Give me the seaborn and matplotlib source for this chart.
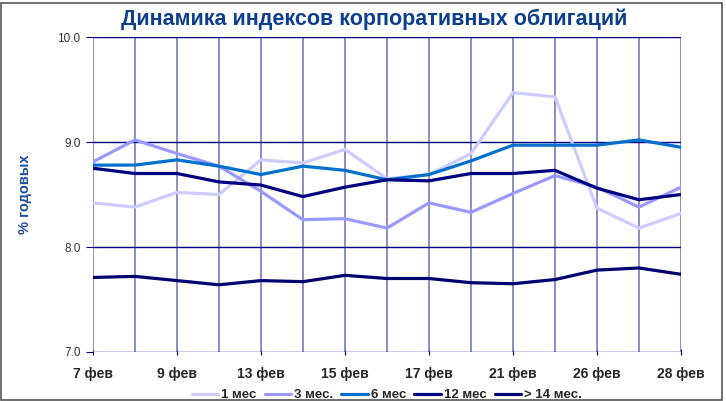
import pandas as pd
import matplotlib.pyplot as plt
import seaborn as sns
from matplotlib.patches import Rectangle

sns.set_style('white')
plt.rcParams['font.family'] = ['Liberation Sans', 'DejaVu Sans']

# --- data ---
dates = ['7 фев', '8 фев', '9 фев', '12 фев', '13 фев', '14 фев', '15 фев', '16 фев',
         '17 фев', '20 фев', '21 фев', '22 фев', '26 фев', '27 фев', '28 фев']
m1 = [8.42, 8.38, 8.52, 8.50, 8.83, 8.80, 8.93, 8.65, 8.69, 8.89, 9.47, 9.43, 8.37, 8.18, 8.32]
m3 = [8.81, 9.02, 8.89, 8.77, 8.53, 8.26, 8.27, 8.18, 8.42, 8.33, 8.51, 8.68, 8.57, 8.38, 8.57]
m6 = [8.78, 8.78, 8.83, 8.77, 8.69, 8.77, 8.73, 8.64, 8.69, 8.82, 8.97, 8.97, 8.97, 9.02, 8.95]
m12 = [8.75, 8.70, 8.70, 8.62, 8.59, 8.48, 8.57, 8.64, 8.63, 8.70, 8.70, 8.73, 8.56, 8.45, 8.50]
m14 = [7.71, 7.72, 7.68, 7.64, 7.68, 7.67, 7.73, 7.70, 7.70, 7.66, 7.65, 7.69, 7.78, 7.80, 7.74]
series_names = ['1 мес', '3 мес.', '6 мес', '12 мес', '> 14 мес.']
colors = ['#ccccff', '#9999ff', '#0070cc', '#000080', '#000070']

frames = []
for name, vals in zip(series_names, [m1, m3, m6, m12, m14]):
    frames.append(pd.DataFrame({'idx': range(len(dates)), 'value': vals, 'series': name}))
df = pd.concat(frames, ignore_index=True)

fig = plt.figure(figsize=(7.26, 4.01), dpi=100)
ax = fig.add_axes([0.128, 0.1222, 0.81, 0.7855])

ax.set_xlim(0, len(dates) - 1)
ax.set_ylim(7.0, 10.0)

# grid: light vertical, navy horizontal
for i in range(len(dates)):
    ax.axvline(i, color='#7a7abf', lw=1.2, zorder=1)
for y in [7.0, 8.0, 9.0, 10.0]:
    ax.axhline(y, color='#000080', lw=1.0, zorder=1)

sns.lineplot(data=df, x='idx', y='value', hue='series', hue_order=series_names,
             palette=dict(zip(series_names, colors)), linewidth=2.3, ax=ax, zorder=3)

for s in ax.spines.values():
    s.set_visible(False)

ax.set_xticks(range(0, len(dates), 2))
ax.set_xticklabels(dates[::2], fontsize=10, fontweight='bold')
ax.set_xticks(range(len(dates)), minor=True)
ax.tick_params(axis='x', which='both', length=4, color='#000080', direction='inout', pad=9)
ax.set_yticks([7.0, 8.0, 9.0, 10.0])
ax.set_yticklabels(['7.0', '8.0', '9.0', '10.0'], fontsize=8.5, color='#333333')
ax.tick_params(axis='y', length=5, color='#000080', pad=4)
ax.tick_params(left=True, bottom=True)

ax.set_xlabel('')
ax.set_ylabel('% годовых', fontsize=10.5, fontweight='bold', color='#1f4e9a', labelpad=18)

fig.text(0.515, 0.952, 'Динамика индексов корпоративных облигаций', ha='center', va='center',
         fontsize=15.5, fontweight='bold', color='#0d3f8f')

leg = ax.legend(loc='upper center', bbox_to_anchor=(0.5, -0.093), ncol=5, frameon=False,
                handlelength=2.0, handletextpad=0.25, columnspacing=0.6,
                prop={'size': 9.5, 'weight': 'bold'}, borderpad=0.1)

fig.patches.append(Rectangle((0.002, 0.002), 0.992, 0.99, transform=fig.transFigure,
                             fill=False, edgecolor='#555555', lw=1.2))

plt.savefig('out.png', dpi=100)
plt.close()
